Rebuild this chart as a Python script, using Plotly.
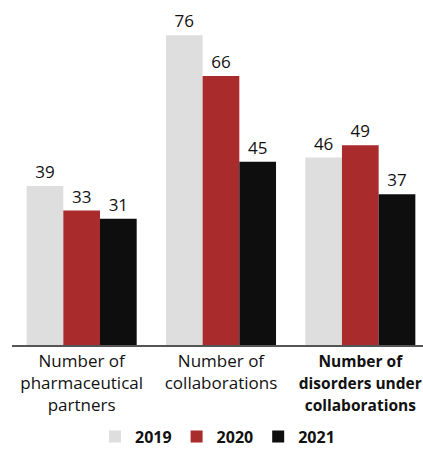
import plotly.graph_objects as go

categories = ["Number of<br>pharmaceutical<br>partners",
              "Number of<br>collaborations",
              "<b>Number of<br>disorders under<br>collaborations</b>"]
years = ["2019", "2020", "2021"]
values_2019 = [39, 76, 46]
values_2020 = [33, 66, 49]
values_2021 = [31, 45, 37]

series = [values_2019, values_2020, values_2021]
colors = ["#dedede", "#a92b2b", "#0e0e0e"]

ticktext = categories[:2] + [
    '<span style="font-size:15.5px">' + categories[2] + "</span>"
]

fig = go.Figure()
for name, vals, col in zip(years, series, colors):
    fig.add_trace(go.Bar(
        x=[0, 1, 2], y=vals, name=name,
        marker=dict(color=col, line=dict(width=0)),
        text=[str(v) for v in vals], textposition="outside",
        textfont=dict(size=17, color="#111111", family="Open Sans"),
        cliponaxis=False,
    ))

fig.update_layout(
    width=423, height=450,
    margin=dict(l=12, r=0, t=19, b=105),
    barmode="group", bargap=0.21, bargroupgap=0.0,
    plot_bgcolor="white", paper_bgcolor="white",
    font=dict(family="Open Sans", size=17, color="#111111"),
    xaxis=dict(
        tickvals=[0, 1, 2], ticktext=ticktext,
        range=[-0.5, 2.45],
        showline=True, linecolor="#555555", linewidth=1.5,
        ticks="", showgrid=False, zeroline=False,
        automargin=False, ticklabeloverflow="allow",
        tickfont=dict(size=17, family="Open Sans", color="#111111"),
    ),
    yaxis=dict(range=[0, 80], visible=False, automargin=False),
    showlegend=True,
    legend=dict(
        orientation="h", x=0.5, xanchor="center",
        yref="container", y=0.03, yanchor="middle",
        font=dict(size=16, family="Open Sans", color="#111111", weight="bold"),
        itemsizing="constant",
    ),
)

fig.write_html(
    "out.html",
    config={"displayModeBar": False},
    post_script="document.body.style.margin='0';document.body.style.overflow='hidden';",
)
